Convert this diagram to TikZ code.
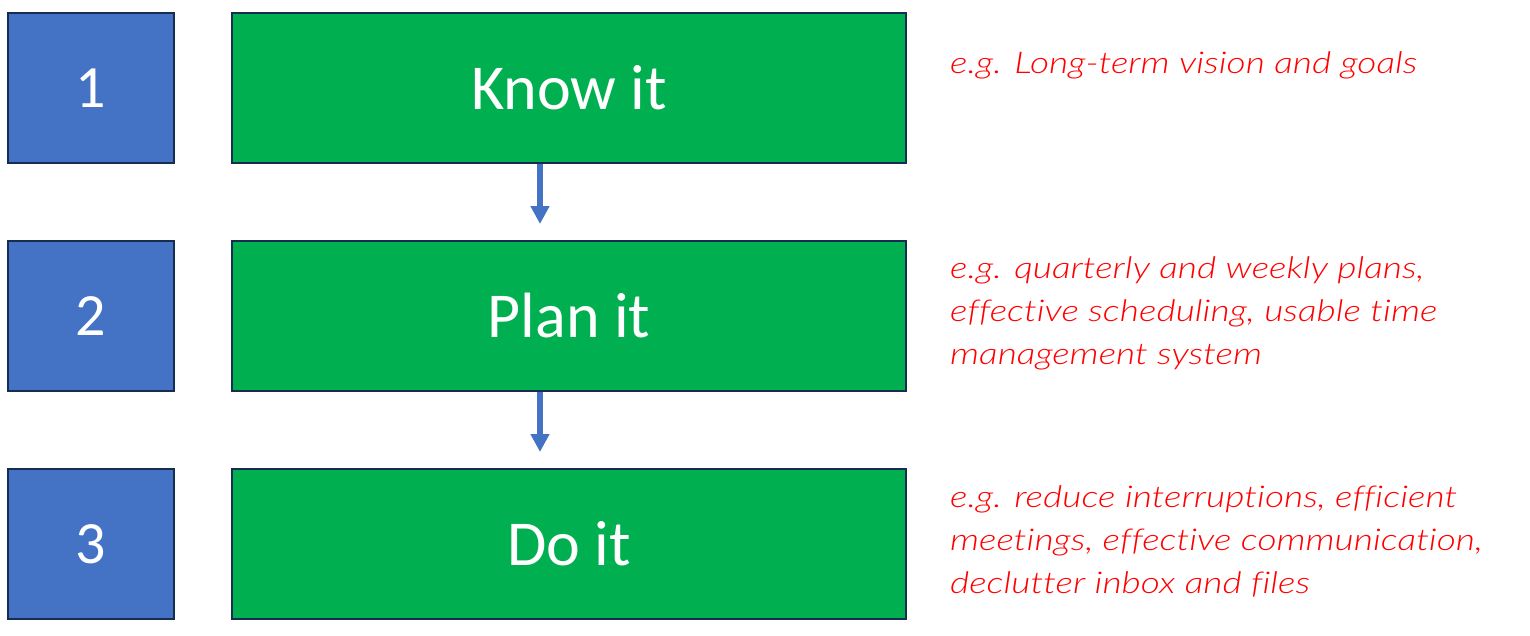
\documentclass[tikz,border=0pt]{standalone}
\usepackage{fontspec}
\setmainfont{Carlito}
\newfontfamily\handfont{Lato Light}[FakeStretch=1.24, Ligatures=NoCommon]
\usetikzlibrary{arrows.meta}
\definecolor{boxblue}{HTML}{4472C4}
\definecolor{boxgreen}{HTML}{00B050}
\definecolor{edge}{HTML}{172C51}
\definecolor{notered}{HTML}{FF0000}
\tikzset{
  numbox/.style={draw=edge, line width=2pt, fill=boxblue, minimum width=166pt, minimum height=150pt, inner sep=0pt, text=white, font=\fontsize{60}{66}\selectfont},
  stepbox/.style={draw=edge, line width=2pt, fill=boxgreen, minimum width=674pt, minimum height=150pt, inner sep=0pt, text=white, font=\fontsize{64}{70}\selectfont},
  note/.style={anchor=west, align=left, inner sep=0pt, text=notered, font=\handfont\itshape\fontsize{30}{43}\selectfont},
  arr/.style={draw=boxblue, line width=6pt, -{Triangle[width=18pt,length=18pt]}, shorten >=16pt}
}
\begin{document}
\begin{tikzpicture}[x=1pt,y=1pt]
\useasboundingbox (0,0) rectangle (1530,-635);
\node[numbox] (n1) at (91,-88) {1};
\node[numbox] (n2) at (91,-316) {2};
\node[numbox] (n3) at (91,-544) {3};
\node[stepbox] (s1) at (569,-88) {Know it};
\node[stepbox] (s2) at (569,-316) {Plan it};
\node[stepbox] (s3) at (569,-544) {Do it};
\draw[arr] ([xshift=-29pt]s1.south) -- ([xshift=-29pt]s2.north);
\draw[arr] ([xshift=-29pt]s2.south) -- ([xshift=-29pt]s3.north);
\node[note] (t1) at (950,-65) {e.g. Long-term vision and goals};
\node[note] (t2) at (950,-313) {e.g. quarterly and weekly plans,\\effective scheduling, usable time\\management system};
\node[note] (t3) at (950,-541) {e.g. reduce interruptions, efficient\\meetings, effective communication,\\declutter inbox and files};
\end{tikzpicture}
\end{document}
